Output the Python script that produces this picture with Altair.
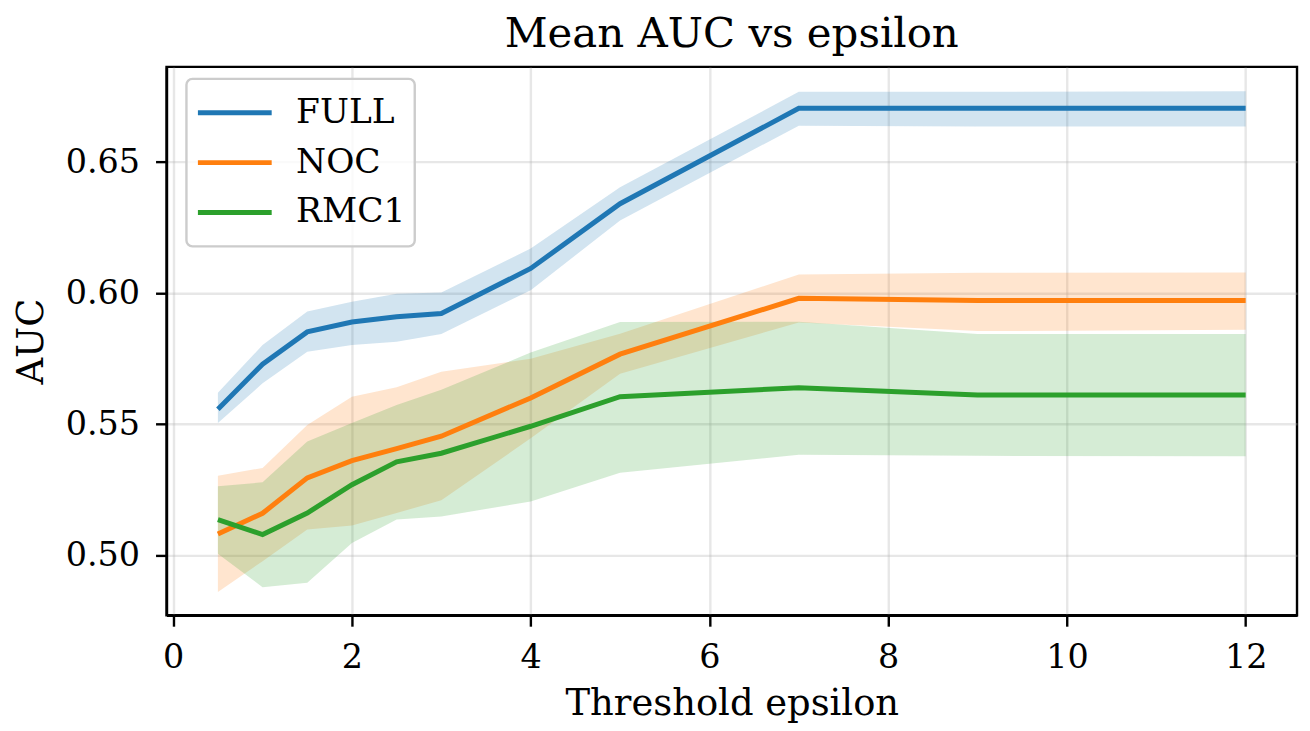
import altair as alt
import pandas as pd

# ---- data ----
x_vals = [0.5, 1, 1.5, 2, 2.5, 3, 4, 5, 7, 9, 12]
series_names = ["FULL", "NOC", "RMC1"]

full_mean = [0.5557, 0.5729, 0.5852, 0.5890, 0.5910, 0.5922, 0.6094, 0.6341, 0.6705, 0.6705, 0.6705]
full_lo = [0.5504, 0.5656, 0.5776, 0.5802, 0.5814, 0.5844, 0.6011, 0.6277, 0.6639, 0.6636, 0.6636]
full_hi = [0.5620, 0.5802, 0.5930, 0.5967, 0.5998, 0.6002, 0.6170, 0.6404, 0.6768, 0.6768, 0.6770]

noc_mean = [0.5081, 0.5160, 0.5295, 0.5361, 0.5407, 0.5454, 0.5600, 0.5767, 0.5980, 0.5972, 0.5972]
noc_lo = [0.4860, 0.4977, 0.5098, 0.5113, 0.5161, 0.5210, 0.5446, 0.5692, 0.5888, 0.5855, 0.5860]
noc_hi = [0.5303, 0.5333, 0.5497, 0.5605, 0.5641, 0.5700, 0.5750, 0.5845, 0.6071, 0.6078, 0.6079]

rmc1_mean = [0.5136, 0.5079, 0.5161, 0.5269, 0.5356, 0.5389, 0.5492, 0.5605, 0.5639, 0.5611, 0.5611]
rmc1_lo = [0.5006, 0.4878, 0.4895, 0.5047, 0.5136, 0.5148, 0.5205, 0.5315, 0.5383, 0.5379, 0.5378]
rmc1_hi = [0.5263, 0.5278, 0.5434, 0.5504, 0.5573, 0.5631, 0.5773, 0.5890, 0.5891, 0.5844, 0.5844]

x_ticks = [0, 2, 4, 6, 8, 10, 12]
y_ticks = [0.50, 0.55, 0.60, 0.65]
colors = ["#1f77b4", "#ff7f0e", "#2ca02c"]

rows = []
for name, m, lo, hi in [
    ("FULL", full_mean, full_lo, full_hi),
    ("NOC", noc_mean, noc_lo, noc_hi),
    ("RMC1", rmc1_mean, rmc1_lo, rmc1_hi),
]:
    for xi, a, b, c in zip(x_vals, m, lo, hi):
        rows.append({"eps": xi, "series": name, "mean": a, "lo": b, "hi": c})
df = pd.DataFrame(rows)

FONT = "DejaVu Serif"
xscale = alt.Scale(domain=[-0.075, 12.575], nice=False, zero=False)
yscale = alt.Scale(domain=[0.4771, 0.6863], nice=False, zero=False)

x_axis = alt.Axis(
    values=x_ticks, format="d", title="Threshold epsilon",
    labelPadding=15, titlePadding=12, tickSize=11,
)
y_axis = alt.Axis(
    values=y_ticks, format=".2f", title="AUC",
    labelPadding=16, titlePadding=15, tickSize=11,
)

base = alt.Chart(df)

bands = base.mark_area(opacity=0.2).encode(
    x=alt.X("eps:Q", scale=xscale, axis=x_axis),
    y=alt.Y("lo:Q", scale=yscale, axis=y_axis),
    y2="hi:Q",
    color=alt.Color("series:N", scale=alt.Scale(domain=series_names, range=colors), legend=None),
    detail="series:N",
)

lines = base.mark_line(strokeWidth=5).encode(
    x=alt.X("eps:Q", scale=xscale),
    y=alt.Y("mean:Q", scale=yscale),
    color=alt.Color(
        "series:N", scale=alt.Scale(domain=series_names, range=colors),
        legend=alt.Legend(
            title=None, orient="none", legendX=20, legendY=12,
            symbolType="stroke", symbolSize=5476, symbolStrokeWidth=5,
            labelFont=FONT, labelFontSize=34.5, labelColor="black",
            labelOffset=22, rowPadding=0, clipHeight=50, padding=9,
            strokeColor="#cccccc", fillColor="rgba(255,255,255,0.8)",
            cornerRadius=6,
        ),
    ),
)

chart = (
    alt.layer(bands, lines)
    .resolve_scale(color="independent")
    .properties(
        width=1134,
        height=550,
        title=alt.TitleParams(
            "Mean AUC vs epsilon", font=FONT, fontSize=42, fontWeight="normal",
            color="black", anchor="middle", baseline="alphabetic", offset=-22,
            frame="group",
        ),
        autosize=alt.AutoSizeParams(type="none"),
        padding={"left": 159, "top": 58, "right": 5, "bottom": 107},
    )
    .configure_view(stroke="black", strokeWidth=2.4)
    .configure_axis(
        grid=True, gridColor="#b0b0b0", gridOpacity=0.3, gridWidth=2.4,
        domainColor="black", domainWidth=2.4,
        tickColor="black", tickWidth=2.4,
        labelFont=FONT, labelFontSize=33.5, labelColor="black",
        labelFlush=False, labelOverlap=False, labelBound=False,
        titleFont=FONT, titleFontSize=37, titleFontWeight="normal", titleColor="black",
    )
    .configure_legend(strokeWidth=2.4)
)

chart.save("out.html", embed_options={"renderer": "svg", "actions": False})
